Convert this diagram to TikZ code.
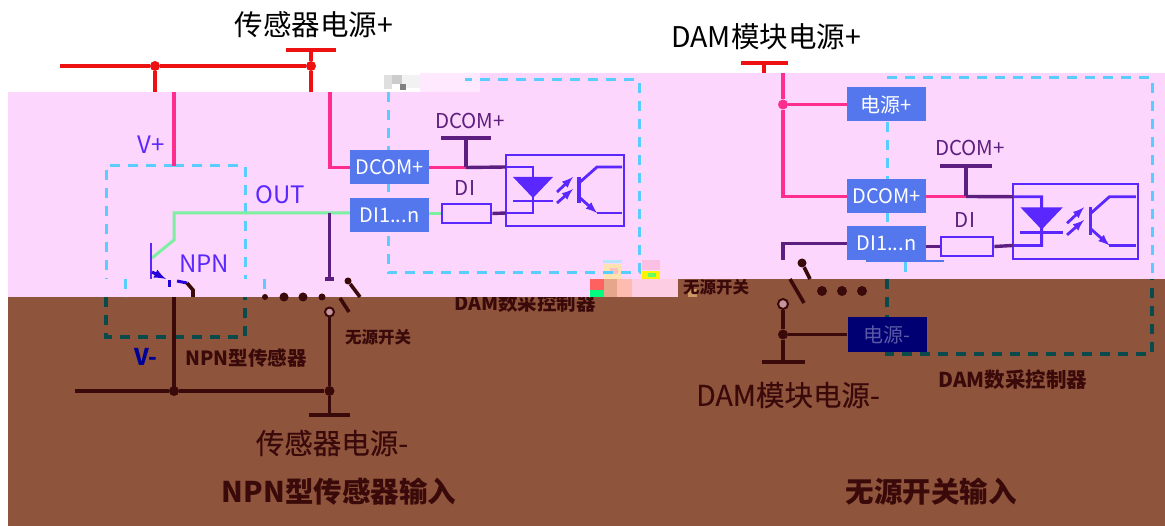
\documentclass[tikz,border=0pt]{standalone}
\usepackage{fontspec}
\setmainfont{Noto Sans CJK SC}
\newfontfamily\medfont[FakeBold=0.35]{Noto Sans CJK SC}
\usetikzlibrary{positioning}
\definecolor{bandpink}{HTML}{FDD6FD}
\definecolor{bandbrown}{HTML}{8F543C}
\definecolor{pinblue}{HTML}{5577EE}
\definecolor{wirered}{HTML}{EE1111}
\definecolor{wirepink}{HTML}{FF2E8E}
\definecolor{wirevio}{HTML}{5A28FF}
\definecolor{wirepur}{HTML}{5C1F7F}
\definecolor{wiregrn}{HTML}{7DEFA0}
\definecolor{wirebrn}{HTML}{3A0A0A}
\definecolor{dashcyan}{HTML}{5ACDFF}
\definecolor{dashteal}{HTML}{0B4A4A}
\tikzset{
  redw/.style={draw=wirered,line width=3.4pt},
  pinkw/.style={draw=wirepink,line width=3.4pt},
  purw/.style={draw=wirepur,line width=3.4pt},
  viow/.style={draw=wirevio,line width=2.8pt},
  grnw/.style={draw=wiregrn,line width=3pt},
  brnw/.style={draw=wirebrn,line width=3.6pt},
  cyand/.style={draw=dashcyan,line width=3pt,dash pattern=on 10pt off 8pt},
  teald/.style={draw=dashteal,line width=3.6pt,dash pattern=on 10pt off 8pt},
  pinbox/.style={fill=pinblue,text=white,minimum width=79pt,minimum height=34pt,inner sep=0pt,font=\fontsize{20}{20}\selectfont},
  resbox/.style={draw=wirevio,line width=2.8pt,minimum width=49pt,minimum height=19pt,inner sep=0pt},
  jdot/.style={circle,inner sep=0pt,minimum size=#1},
  jdot/.default=10pt,
  big/.style={font=\fontsize{28.5}{30}\selectfont},
  mid/.style={font=\fontsize{24}{25}\selectfont,text=wirevio},
  sml/.style={font=\fontsize{20.5}{21}\selectfont,text=wirepur},
  tag/.style={text=wirebrn,font=\fontsize{19.5}{20}\selectfont\bfseries}
}
% coupler cell, #1 origin, #2 scale, #3 prefix
\newcommand{\optocell}[3]{
  \begin{scope}[shift={#1},scale=#2]
    \coordinate (#3a) at (0,12);
    \coordinate (#3b) at (0,58);
    \draw[draw=wirevio,line width=1.8pt] (0,0) rectangle (118,71);
    \draw[viow] (#3a) -- (27,12) -- (27,58) -- (#3b);
    \fill[wirevio] (7,22) -- (47,22) -- (27,43) -- cycle;
    \draw[viow] (7,46) -- (47,46);
    \draw[viow,->] (51,37) -- (67,22);
    \draw[viow,->] (51,48) -- (67,34);
    \draw[viow,line width=3.4pt] (73,22) -- (73,48);
    \draw[viow] (73,28) -- (91,12) -- (116,12);
    \draw[viow] (91,58) -- (116,58);
    \draw[viow,->] (73,42) -- (91,58);
  \end{scope}
}
\begin{document}
\begin{tikzpicture}[x=1pt,y=-1pt,>=latex]
  \useasboundingbox (0,0) rectangle (1165,526);
  % colour bands
  \fill[white] (0,0) rectangle (1165,526);
  \fill[bandbrown] (8,297) rectangle (1165,526);
  \node[tag] (ctrlL) at (525,303) {DAM数采控制器};
  \fill[bandpink] (8,92) rectangle (678,297);
  \fill[bandpink] (362,73) rectangle (1165,92);
  \fill[bandpink] (678,92) rectangle (1165,279);
  \fill[bandbrown] (678,279) rectangle (1165,297);
  % broken patches
  \foreach \xa/\ya/\xb/\yb/\col in {
    362/73/420/92/white, 384/75/392/89/gray!25, 392/75/402/84/gray!40, 402/75/420/88/gray!10,
    420/73/480/92/bandpink!55, 400/84/406/90/black!50,
    603/260/622/263/cyan!30, 604/264/622/279/bandpink!70!yellow, 610/268/618/274/pink,
    590/279/604/290/red!50!pink, 590/290/604/297/green!50!cyan, 604/279/617/297/pink!60!brown,
    617/279/632/297/bandpink!70!orange, 632/279/678/297/orange!10!bandpink, 642/260/660/270/magenta!25, 642/271/660/279/yellow,
    648/273/656/277/green!60, 688/289/697/297/brown!80}
    \fill[\col] (\xa,\ya) rectangle (\xb,\yb);
  % titles
  \node[big] (srcP) at (314,25) {传感器电源+};
  \node[big] (damP) at (766,37) {DAM模块电源+};
  \node[big,text=wirebrn,font=\fontsize{28.5}{30}\medfont] (srcN) at (332,443) {传感器电源-};
  \node[big,text=wirebrn,font=\fontsize{28.5}{30}\medfont] (damN) at (788,395) {DAM模块电源-};
  \node[big,text=wirebrn,font=\fontsize{28.5}{30}\selectfont\bfseries] (capL) at (339,492) {NPN型传感器输入};
  \node[big,text=wirebrn,font=\fontsize{28.5}{30}\selectfont\bfseries] (capR) at (931,492) {无源开关输入};
  \node[tag] (npnT) at (246,358) {NPN型传感器};
  \node[tag,font=\fontsize{16.5}{18}\selectfont\bfseries] (swL) at (378,337) {无源开关};
  \node[tag,font=\fontsize{16.5}{18}\selectfont\bfseries] (swR) at (716,287) {无源开关};
  \node[tag,font=\fontsize{20.5}{22}\selectfont\bfseries] (ctrlR) at (1013,380) {DAM数采控制器};
  \node[mid] (vpT) at (151,145) {V+};
  \node[mid,text=blue!60!black,font=\fontsize{23}{24}\selectfont\bfseries] (vnT) at (146,357) {V-};
  \node[mid] (outT) at (280,195) {OUT};
  \node[mid] (npnS) at (204,264) {NPN};
  \node[sml] (dcomA) at (470,121) {DCOM+};
  \node[sml] (diA) at (465,188) {DI};
  \node[sml] (dcomB) at (970,148) {DCOM+};
  \node[sml] (diB) at (965,220) {DI};
  % dashed frames
  \draw[cyand] (174,166) -- (106,166) -- (106,279);
  \draw[cyand] (174,166) -- (245,166) -- (245,279);
  \draw[cyand] (125,279) -- (125,297);
  \draw[cyand] (264,279) -- (264,297);
  \draw[teald] (106,297) -- (106,337) -- (245,337) -- (245,297);
  \draw[cyand] (388,92) -- (388,273) -- (639,273) -- (639,80) -- (465,80);
  \draw[cyand] (887,78) -- (1152,78) -- (1152,279);
  \draw[cyand] (887,122) -- (887,260);
  \draw[cyand] (905,262) -- (905,279);
  \draw[teald] (887,279) -- (887,354) -- (1152,354) -- (1152,279);
  % left panel
  \node[pinbox] (dcomL) at (389.5,167.5) {DCOM+};
  \node[pinbox] (diL) at (389.5,215) {DI1...n};
  \node[resbox] (resL) at (466.5,213.5) {};
  \node[jdot,fill=wirered] (busA) at (155,66) {};
  \node[jdot,fill=wirered] (busB) at (311,66) {};
  \coordinate (busE) at (60,66);
  \coordinate (teeA) at (286,50);
  \coordinate (teeB) at (336,50);
  \coordinate (teeC) at (311,50);
  \draw[redw] (busE) -- (busA) -- (busB);
  \draw[redw] (teeA) -- (teeB);
  \draw[redw] (teeC) -- (busB) -- (311,92);
  \draw[redw] (busA) -- (155,92);
  \draw[pinkw] (174,92) -- (174,166);
  \draw[pinkw] (330,92) -- (330,167.5) -- (dcomL.west);
  \coordinate (outA) at (174,213);
  \coordinate (outB) at (174,240);
  \coordinate (outC) at (152,258);
  \draw[grnw] (diL.west |- outA) -- (outA) -- (outB) -- (outC);
  \draw[viow] (151,243) -- (151,279);
  \draw[draw=blue!85!red,line width=3pt,->] (152,272) -- (166,279);
  \draw[draw=blue!85!red,line width=3pt] (169,280) -- (169,287);
  \draw[draw=blue!85!red,line width=3pt] (177,281) -- (187,283);
  \draw[brnw] (187,283) -- (193,290) -- (193,297);
  \draw[brnw] (174,297) -- (174,391);
  \draw[purw] (329.5,213) -- (329.5,278);
  \draw[purw] (325,279) -- (334,279);
  \foreach \sx/\sr in {265/6,284/9,303/9,322/7}
    \node[jdot=\sr pt,fill=wirebrn] (gap\sx) at (\sx,297) {};
  \node[jdot=7pt,fill=wirebrn] (knobL) at (348,281) {};
  \draw[brnw] (knobL) -- (360,297);
  \draw[brnw] (340,298) -- (349,312);
  \node[jdot=9pt,draw=wirebrn,line width=2pt,fill=bandpink!50!bandbrown] (pinL) at (329.5,312) {};
  \node[jdot,fill=wirebrn] (gndA) at (174,391) {};
  \node[jdot,fill=wirebrn] (gndB) at (329.5,391) {};
  \coordinate (gndE) at (75,391);
  \coordinate (gndC) at (329.5,415);
  \draw[brnw] (gndE) -- (gndA) -- (gndB);
  \draw[brnw] (pinL) -- (gndB) -- (gndC);
  \draw[brnw,line width=4pt] (309,415) -- (350,415);
  \optocell{(506,155)}{1}{optL}
  \coordinate (teeL) at (466,167.5);
  \draw[pinkw] (dcomL.east) -- (teeL);
  \draw[purw] (teeL) -- (optLa);
  \draw[purw] (466,138) -- (teeL);
  \draw[purw] (441,138) -- (491,138);
  \draw[grnw] (diL.east |- resL) -- (resL.west);
  \draw[purw] (resL.east) -- (optLb);
  % right panel
  \node[pinbox] (pwrR) at (886.5,104.5) {电源+};
  \node[pinbox] (dcomR) at (886.5,196.5) {DCOM+};
  \node[pinbox] (diR) at (886.5,243.5) {DI1...n};
  \node[pinbox,fill=blue!45!black,text=blue!30!gray,minimum height=35pt] (negR) at (887,334.5) {电源-};
  \node[resbox,minimum width=52pt] (resR) at (967,246.5) {};
  \draw[draw=pinblue,line width=1.4pt] (866,261) -- (944,261);
  \coordinate (teeE) at (764,63);
  \draw[redw] (741,63) -- (788,63);
  \draw[redw] (teeE) -- (764,73);
  \node[jdot,fill=wirepink] (pwrJ) at (783,104.5) {};
  \draw[pinkw] (783,73) -- (pwrJ) -- (pwrR.west);
  \draw[pinkw] (pwrJ) -- (783,196.5) -- (dcomR.west);
  \optocell{(1013,184)}{1.06}{optR}
  \coordinate (teeR) at (966,196.5);
  \draw[pinkw] (dcomR.east) -- (teeR);
  \draw[purw] (teeR) -- (optRa);
  \draw[purw] (966,166) -- (teeR);
  \draw[purw] (940,166) -- (992,166);
  \draw[purw] (diR.east |- resR) -- (resR.west);
  \draw[purw] (resR.east) -- (optRb);
  \draw[purw] (diR.west) -- (783,243.5) -- (783,260);
  \node[jdot=9pt,fill=wirebrn] (knobR) at (802,263) {};
  \draw[brnw] (knobR) -- (810,279);
  \draw[brnw] (790,279) -- (804,303);
  \foreach \sx in {822,842,862}
    \node[jdot,fill=wirebrn] (gap\sx) at (\sx,291) {};
  \node[jdot=10pt,draw=wirebrn,line width=2pt,fill=bandpink!50!bandbrown] (pinR) at (783,304) {};
  \node[jdot,fill=wirebrn] (negJ) at (783,334.5) {};
  \draw[brnw] (negR.west) -- (negJ);
  \draw[brnw] (pinR) -- (negJ) -- (783,362);
  \draw[brnw,line width=4pt] (762,362) -- (805,362);
\end{tikzpicture}
\end{document}
